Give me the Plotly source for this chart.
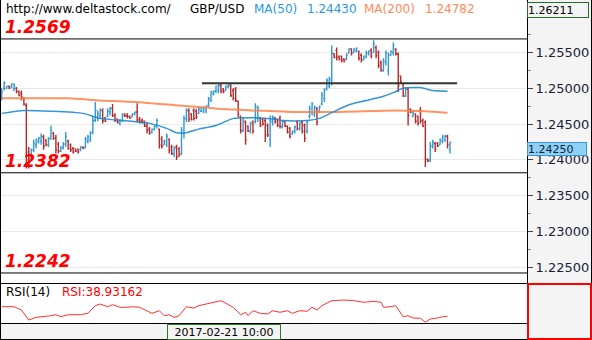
import plotly.graph_objects as go

# ---------------- data ----------------
highs = [
1.2500,1.2510,1.2503,1.2504,1.2507,1.2507,1.2502,1.2497,1.2497,1.2488,
1.2479,1.2418,1.2416,1.2428,1.2430,1.2432,1.2437,1.2435,1.2429,1.2432,
1.2448,1.2439,1.2435,1.2425,1.2419,1.2425,1.2439,1.2428,1.2423,1.2418,
1.2416,1.2416,1.2419,1.2419,1.2432,1.2435,1.2440,1.2460,1.2481,1.2469,
1.2472,1.2472,1.2460,1.2472,1.2474,1.2478,1.2465,1.2458,1.2457,1.2465,
1.2465,1.2465,1.2462,1.2465,1.2467,1.2479,1.2460,1.2458,1.2455,1.2453,
1.2446,1.2444,1.2448,1.2458,1.2444,1.2433,1.2428,1.2437,1.2430,1.2421,
1.2419,1.2421,1.2418,1.2446,1.2462,1.2472,1.2472,1.2465,1.2472,1.2471,
1.2474,1.2474,1.2475,1.2476,1.2488,1.2497,1.2497,1.2504,1.2507,1.2507,
1.2500,1.2504,1.2506,1.2507,1.2500,1.2502,1.2483,1.2462,1.2460,1.2455,
1.2448,1.2453,1.2455,1.2479,1.2476,1.2460,1.2458,1.2458,1.2451,1.2462,
1.2462,1.2460,1.2458,1.2462,1.2455,1.2455,1.2448,1.2446,1.2441,1.2448,
1.2455,1.2453,1.2455,1.2451,1.2455,1.2476,1.2481,1.2476,1.2474,1.2476,
1.2495,1.2500,1.2514,1.2516,1.2560,1.2549,1.2557,1.2546,1.2546,1.2542,
1.2549,1.2556,1.2556,1.2556,1.2557,1.2553,1.2549,1.2546,1.2553,1.2553,
1.2556,1.2567,1.2560,1.2553,1.2539,1.2542,1.2553,1.2550,1.2553,1.2564,
1.2556,1.2550,1.2518,1.2507,1.2502,1.2502,1.2472,1.2469,1.2465,1.2462,
1.2474,1.2458,1.2455,1.2402,1.2425,1.2428,1.2425,1.2425,1.2430,1.2435,
1.2435,1.2435,1.2425]

lows = [
1.2483,1.2497,1.2499,1.2499,1.2500,1.2496,1.2493,1.2489,1.2483,1.2476,
1.2388,1.2388,1.2407,1.2411,1.2416,1.2423,1.2421,1.2414,1.2419,1.2418,
1.2428,1.2428,1.2409,1.2409,1.2411,1.2415,1.2418,1.2414,1.2411,1.2409,
1.2411,1.2409,1.2412,1.2415,1.2416,1.2423,1.2425,1.2436,1.2453,1.2454,
1.2458,1.2451,1.2453,1.2460,1.2462,1.2460,1.2453,1.2451,1.2448,1.2453,
1.2460,1.2458,1.2458,1.2460,1.2462,1.2453,1.2451,1.2451,1.2446,1.2437,
1.2435,1.2437,1.2441,1.2444,1.2416,1.2416,1.2421,1.2418,1.2409,1.2407,
1.2404,1.2400,1.2404,1.2407,1.2430,1.2453,1.2453,1.2455,1.2455,1.2457,
1.2464,1.2467,1.2465,1.2465,1.2474,1.2481,1.2490,1.2493,1.2493,1.2493,
1.2493,1.2497,1.2500,1.2488,1.2483,1.2481,1.2460,1.2437,1.2439,1.2421,
1.2439,1.2437,1.2437,1.2451,1.2453,1.2446,1.2448,1.2425,1.2432,1.2418,
1.2448,1.2451,1.2446,1.2444,1.2444,1.2446,1.2437,1.2430,1.2435,1.2437,
1.2441,1.2441,1.2437,1.2425,1.2437,1.2458,1.2462,1.2460,1.2448,1.2465,
1.2476,1.2481,1.2497,1.2500,1.2504,1.2542,1.2539,1.2539,1.2536,1.2536,
1.2539,1.2549,1.2546,1.2550,1.2550,1.2539,1.2536,1.2539,1.2542,1.2546,
1.2542,1.2549,1.2542,1.2528,1.2523,1.2523,1.2532,1.2518,1.2546,1.2546,
1.2546,1.2495,1.2507,1.2488,1.2488,1.2448,1.2465,1.2460,1.2451,1.2448,
1.2451,1.2446,1.2390,1.2397,1.2397,1.2416,1.2411,1.2418,1.2421,1.2423,
1.2425,1.2416,1.2409]

opens = [
1.2489,1.2500,1.2500,1.2503,1.2502,1.2499,1.2500,1.2496,1.2493,1.2486,
1.2476,1.2411,1.2408,1.2414,1.2421,1.2425,1.2426,1.2432,1.2428,1.2421,
1.2430,1.2437,1.2430,1.2422,1.2412,1.2416,1.2422,1.2426,1.2421,1.2416,
1.2415,1.2415,1.2414,1.2418,1.2418,1.2426,1.2428,1.2439,1.2455,1.2460,
1.2462,1.2469,1.2458,1.2461,1.2467,1.2472,1.2462,1.2457,1.2451,1.2455,
1.2464,1.2462,1.2461,1.2460,1.2464,1.2467,1.2457,1.2455,1.2454,1.2448,
1.2443,1.2439,1.2443,1.2447,1.2443,1.2429,1.2421,1.2422,1.2429,1.2418,
1.2408,1.2418,1.2415,1.2409,1.2437,1.2457,1.2469,1.2464,1.2469,1.2468,
1.2465,1.2468,1.2468,1.2469,1.2476,1.2483,1.2492,1.2496,1.2497,1.2504,
1.2499,1.2497,1.2502,1.2504,1.2497,1.2499,1.2482,1.2460,1.2441,1.2453,
1.2447,1.2440,1.2453,1.2454,1.2458,1.2458,1.2457,1.2455,1.2448,1.2428,
1.2453,1.2458,1.2457,1.2458,1.2446,1.2454,1.2447,1.2444,1.2436,1.2439,
1.2453,1.2443,1.2453,1.2448,1.2440,1.2461,1.2467,1.2464,1.2471,1.2467,
1.2478,1.2486,1.2500,1.2503,1.2511,1.2548,1.2553,1.2545,1.2545,1.2541,
1.2541,1.2549,1.2555,1.2550,1.2552,1.2552,1.2546,1.2541,1.2543,1.2548,
1.2553,1.2550,1.2557,1.2550,1.2536,1.2525,1.2536,1.2525,1.2546,1.2550,
1.2555,1.2548,1.2517,1.2506,1.2489,1.2499,1.2471,1.2461,1.2464,1.2461,
1.2469,1.2455,1.2453,1.2401,1.2400,1.2419,1.2423,1.2423,1.2421,1.2426,
1.2428,1.2433,1.2414]

closes = [
1.2495,1.2507,1.2503,1.2500,1.2506,1.2504,1.2495,1.2490,1.2488,1.2478,
1.2400,1.2402,1.2414,1.2423,1.2428,1.2430,1.2433,1.2419,1.2421,1.2429,
1.2441,1.2430,1.2414,1.2412,1.2418,1.2422,1.2433,1.2416,1.2414,1.2411,
1.2412,1.2411,1.2418,1.2416,1.2429,1.2432,1.2437,1.2455,1.2469,1.2465,
1.2469,1.2455,1.2454,1.2468,1.2472,1.2462,1.2455,1.2453,1.2455,1.2462,
1.2461,1.2460,1.2458,1.2464,1.2467,1.2455,1.2453,1.2453,1.2447,1.2441,
1.2437,1.2443,1.2447,1.2455,1.2421,1.2419,1.2426,1.2433,1.2414,1.2409,
1.2416,1.2404,1.2407,1.2441,1.2458,1.2469,1.2457,1.2457,1.2458,1.2460,
1.2471,1.2472,1.2472,1.2475,1.2485,1.2495,1.2496,1.2503,1.2504,1.2496,
1.2495,1.2503,1.2504,1.2490,1.2486,1.2483,1.2464,1.2441,1.2455,1.2428,
1.2440,1.2450,1.2440,1.2474,1.2472,1.2448,1.2450,1.2435,1.2435,1.2455,
1.2460,1.2453,1.2448,1.2447,1.2453,1.2447,1.2439,1.2433,1.2440,1.2446,
1.2444,1.2450,1.2440,1.2430,1.2453,1.2472,1.2478,1.2474,1.2453,1.2474,
1.2490,1.2497,1.2511,1.2513,1.2549,1.2543,1.2543,1.2541,1.2539,1.2538,
1.2546,1.2555,1.2549,1.2555,1.2556,1.2542,1.2539,1.2545,1.2550,1.2552,
1.2545,1.2562,1.2546,1.2532,1.2525,1.2538,1.2549,1.2546,1.2552,1.2560,
1.2548,1.2504,1.2509,1.2490,1.2499,1.2462,1.2467,1.2467,1.2454,1.2451,
1.2454,1.2447,1.2400,1.2398,1.2419,1.2425,1.2415,1.2419,1.2428,1.2432,
1.2433,1.2421,1.2425]

bar_idx = list(range(len(closes)))

ma50_idx = [0, 9, 20, 33, 40, 53, 60, 67, 71, 75, 80, 87, 94, 101, 108, 114,
            124, 129, 134, 141, 148, 155, 159, 163, 170, 175, 181]
ma50 = [1.2465, 1.2469, 1.2468, 1.2465, 1.2458, 1.2454, 1.2451, 1.2444, 1.2438,
        1.2438, 1.2443, 1.2448, 1.2458, 1.2459, 1.2458, 1.2455, 1.2455, 1.2458,
        1.2466, 1.2477, 1.2483, 1.2489, 1.2494, 1.2500, 1.2501, 1.2497, 1.2496]

ma200_idx = [0, 27, 40, 58, 72, 80, 90, 104, 118, 136, 160, 172, 181]
ma200 = [1.2486, 1.2486, 1.2483, 1.2480, 1.2476, 1.2474, 1.2471, 1.2469, 1.2467,
         1.2467, 1.2469, 1.2468, 1.2466]

rsi_idx = [0, 5, 8, 11, 14, 17, 20, 22, 24, 27, 29, 32, 35, 38, 40, 43, 45, 48,
           51, 53, 56, 59, 61, 64, 66, 68, 70, 72, 75, 78, 80, 83, 86, 89, 91,
           94, 97, 99, 100, 102, 105, 108, 110, 113, 116, 118, 121, 124, 126,
           128, 130, 134, 139, 143, 147, 151, 154, 155, 158, 160, 163, 165,
           167, 170, 172, 174, 177, 179, 181]
rsi = [37.4, 37.4, 32.9, 19.1, 22.8, 23.7, 25.0, 26.4, 23.7, 26.4, 26.0, 26.4,
       28.3, 38.8, 41.1, 37.4, 40.2, 36.6, 36.6, 37.4, 36.6, 31.9, 28.3, 31.9,
       25.0, 26.4, 22.8, 25.0, 37.4, 35.6, 38.8, 41.1, 43.5, 45.7, 42.1, 36.6,
       26.4, 29.7, 25.0, 31.9, 28.3, 27.4, 31.9, 29.7, 31.9, 28.3, 31.9, 31.1,
       36.6, 32.9, 38.8, 45.7, 46.6, 45.7, 43.5, 44.8, 43.5, 36.6, 37.4, 38.8,
       23.7, 25.0, 21.9, 21.5, 16.0, 20.5, 21.9, 23.7, 24.2]

price_ticks = [1.225, 1.230, 1.235, 1.240, 1.245, 1.250, 1.255]
minor_ticks = [1.2225, 1.2275, 1.2325, 1.2375, 1.2425, 1.2475, 1.2525, 1.2575, 1.2600]
levels = [1.2569, 1.2382, 1.2242]
resistance = 1.2507
resistance_span = [81.3, 184.9]
axis_top_value = 1.26211
last_price = 1.24250
cursor_label = "2017-02-21 10:00"

# ---------------- style ----------------
W, H = 592, 340
FONT = "DejaVu Sans"
UP = "#3399d4"
DOWN = "#b32a2a"
MA50_C = "rgba(30,138,210,0.9)"
MA200_C = "rgba(255,128,70,0.85)"
PANEL = "#f4f4f4"
PLOT_R = 527  # right edge of the plot area, px


def fx(x):
    return x / W


def fy(y):
    return 1 - y / H


fig = go.Figure()
fig.add_trace(go.Scatter(x=ma200_idx, y=ma200, mode="lines",
                         line=dict(color=MA200_C, width=2, shape="spline", smoothing=0.6),
                         hoverinfo="skip"))
fig.add_trace(go.Scatter(x=ma50_idx, y=ma50, mode="lines",
                         line=dict(color=MA50_C, width=1.5, shape="spline", smoothing=0.6),
                         hoverinfo="skip"))
fig.add_trace(go.Ohlc(x=bar_idx, open=opens, high=highs, low=lows, close=closes,
                      increasing=dict(line=dict(color=UP, width=1.4)),
                      decreasing=dict(line=dict(color=DOWN, width=1.4)),
                      tickwidth=0.5, hoverinfo="skip"))
fig.add_trace(go.Scatter(x=rsi_idx, y=rsi, mode="lines", yaxis="y2",
                         line=dict(color="#ff3030", width=1), hoverinfo="skip"))

spacing = 2.463
x0 = -1.7 / spacing
x1 = x0 + PLOT_R / spacing

shapes = [
    # right price-axis panel and date strip
    dict(type="rect", xref="paper", yref="paper", x0=fx(PLOT_R), x1=1, y0=fy(283), y1=1,
         fillcolor=PANEL, line=dict(width=0), layer="below"),
    dict(type="rect", xref="paper", yref="paper", x0=0, x1=fx(PLOT_R), y0=fy(339), y1=fy(323),
         fillcolor=PANEL, line=dict(width=0), layer="below"),
]
for lv in levels:
    shapes.append(dict(type="line", xref="paper", yref="y", x0=0, x1=fx(PLOT_R), y0=lv, y1=lv,
                       line=dict(color="#000000", width=1)))
shapes.append(dict(type="line", xref="x", yref="y", x0=resistance_span[0], x1=resistance_span[1],
                   y0=resistance, y1=resistance, line=dict(color="#333333", width=2)))
# frame lines
frame = [
    (PLOT_R + 0.5, 0, PLOT_R + 0.5, 340),
    (0, 283.5, W, 283.5),
    (0, 323.5, PLOT_R, 323.5),
    (0, 339.5, W, 339.5),
    (0.5, 0, 0.5, 340),
    (591.5, 0, 591.5, 284),
]
for (a, b, c, d) in frame:
    shapes.append(dict(type="line", xref="paper", yref="paper", x0=fx(a), y0=fy(b), x1=fx(c), y1=fy(d),
                       line=dict(color="#000000", width=1)))
# RSI axis box (red)
shapes.append(dict(type="rect", xref="paper", yref="paper", x0=fx(528), x1=fx(591), y0=fy(339), y1=fy(284),
                   fillcolor=PANEL, line=dict(color="#ff0000", width=2)))

ann = []


def text(x, y, s, color="#000000", size=12, anchor="left", **kw):
    ann.append(dict(xref="paper", yref="paper", x=fx(x), y=fy(y), text=s, showarrow=False,
                    xanchor=anchor, yanchor="middle",
                    font=dict(family=FONT, size=size, color=color), **kw))


text(4, 9, "http://www.deltastock.com/")
text(188, 9, "GBP/USD")
text(252, 9, "MA(50)", color="#2a98dc")
text(305, 9, "1.24430", color="#2a98dc")
text(362, 9, "MA(200)", color="#ff8a55")
text(423, 9, "1.24782", color="#ff8a55")
text(4, 292, "RSI(14)")
text(60, 292, "RSI:38.93162", color="#ff0000")

for lv in levels:
    ann.append(dict(xref="paper", yref="y", x=fx(3), y=lv, text="<b><i>%.4f</i></b>" % lv,
                    showarrow=False, xanchor="left", yanchor="bottom", yshift=0,
                    font=dict(family=FONT, size=17, color="#ff0000")))

# boxed labels
ann.append(dict(xref="paper", yref="y", x=fx(PLOT_R), y=axis_top_value, text="%.5f" % axis_top_value,
                showarrow=False, xanchor="left", yanchor="top", align="left",
                width=60, height=14, borderpad=0, borderwidth=1, bordercolor="#2a6a2a",
                bgcolor=PANEL, font=dict(family=FONT, size=11, color="#000000")))
ann.append(dict(xref="paper", yref="y", x=fx(PLOT_R), y=last_price, text="%.5f" % last_price,
                showarrow=False, xanchor="left", yanchor="top", align="left",
                width=58, height=12, borderpad=0, borderwidth=1, bordercolor="#3a98d8",
                bgcolor="#8fd0f5", font=dict(family=FONT, size=11, color="#10203a")))
ann.append(dict(xref="paper", yref="paper", x=fx(167), y=fy(323.5), text=cursor_label,
                showarrow=False, xanchor="left", yanchor="top",
                width=112, height=14, borderpad=0, borderwidth=1, bordercolor="#2d7a2d",
                bgcolor=PANEL, font=dict(family=FONT, size=11, color="#000000")))

fig.update_layout(
    template="none",
    width=W, height=H,
    margin=dict(l=0, r=0, t=0, b=0),
    paper_bgcolor="#ffffff", plot_bgcolor="#ffffff",
    showlegend=False, hovermode=False,
    font=dict(family=FONT, size=12, color="#000000"),
    xaxis=dict(domain=[0, fx(PLOT_R)], range=[x0, x1], visible=False, fixedrange=True,
               rangeslider=dict(visible=False), anchor="y"),
    yaxis=dict(domain=[fy(283), fy(1)], range=[1.2228, 1.2622], side="right", anchor="x",
               tickmode="array", tickvals=price_ticks,
               ticktext=["%.5f" % t for t in price_ticks],
               ticks="outside", ticklen=5, tickwidth=1, tickcolor="#444444",
               tickfont=dict(family=FONT, size=13, color="#1a1f3a"),
               showgrid=True, gridcolor="#e8e8e8", gridwidth=1,
               zeroline=False, showline=False, automargin=False, fixedrange=True,
               minor=dict(tickmode="array", tickvals=minor_ticks, ticks="outside", ticklen=3,
                          tickcolor="#888888", showgrid=False)),
    yaxis2=dict(domain=[fy(323), fy(283)], range=[15, 70], anchor="x", visible=False,
                fixedrange=True),
    shapes=shapes,
    annotations=ann,
)

fig.write_html("out.html", config={"displayModeBar": False})
